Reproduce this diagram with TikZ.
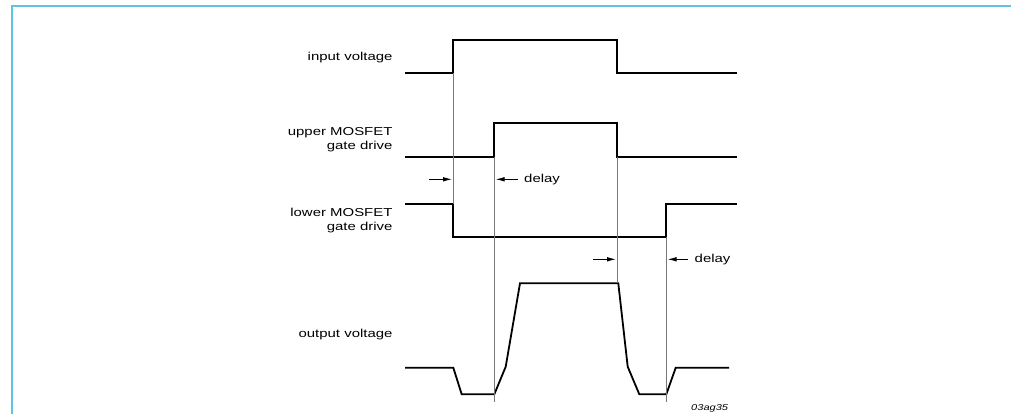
\documentclass[tikz,border=0pt]{standalone}
\usepackage{fontspec}
\setmainfont{Liberation Sans}[FakeStretch=1.3]
\usetikzlibrary{arrows.meta}
\definecolor{frameblue}{RGB}{95,195,225}
\definecolor{guidegray}{RGB}{120,120,120}
\tikzset{
  wave/.style={line width=1.8pt, line join=miter, line cap=butt},
  guide/.style={draw=guidegray, line width=0.9pt},
  lbl/.style={inner sep=0pt, font=\fontsize{11.5}{14}\selectfont, align=right},
  dlbl/.style={inner sep=0pt, font=\fontsize{11.5}{14}\selectfont, anchor=west},
  marker/.style={line width=0.9pt, -{Latex[length=9pt,width=4.6pt]}},
}
\begin{document}
\begin{tikzpicture}[x=1pt,y=-1pt]
\useasboundingbox (0,0) rectangle (1011,413);
\clip (0,0) rectangle (1011,413);
% frame
\draw[frameblue, line width=2pt] (12,414) -- (12,6) -- (1012,6);

% labels
\node[lbl, anchor=base east] (lin) at (392.7,60.7) {input voltage};
\node[lbl, anchor=east] (lup) at (392.7,140) {upper MOSFET\\gate drive};
\node[lbl, anchor=east] (llo) at (392.7,220.5) {lower MOSFET\\gate drive};
\node[lbl, anchor=base east] (lout) at (392.7,337.3) {output voltage};

% input voltage
\coordinate (in0) at (405,73.3);
\coordinate (in1) at (453.3,73.3);
\coordinate (in2) at (453.3,40);
\coordinate (in3) at (617.3,40);
\coordinate (in4) at (617.3,73.3);
\coordinate (in5) at (736.7,73.3);
\draw[wave] (in0) -- (in1) -- (in2) -- (in3) -- (in4) -- (in5);

% upper MOSFET gate drive
\coordinate (up0) at (405,156.7);
\coordinate (up1) at (494.3,156.7);
\coordinate (up2) at (494.3,122.7);
\coordinate (up3) at (617.3,122.7);
\coordinate (up4) at (617.3,156.7);
\coordinate (up5) at (736.7,156.7);
\draw[wave] (up0) -- (up1) -- (up2) -- (up3) -- (up4) -- (up5);

% lower MOSFET gate drive
\coordinate (lo0) at (405,204);
\coordinate (lo1) at (453.3,204);
\coordinate (lo2) at (453.3,236.7);
\coordinate (lo3) at (666.3,236.7);
\coordinate (lo4) at (666.3,204);
\coordinate (lo5) at (736.7,204);
\draw[wave] (lo0) -- (lo1) -- (lo2) -- (lo3) -- (lo4) -- (lo5);

% output voltage
\coordinate (o0) at (405,367.7);
\coordinate (o1) at (453.3,367.7);
\coordinate (o2) at (461.7,394.3);
\coordinate (o3) at (494.3,394.3);
\coordinate (o4) at (505.7,366.7);
\coordinate (o5) at (520,283.3);
\coordinate (o6) at (618.3,283.3);
\coordinate (o7) at (627.7,366.7);
\coordinate (o8) at (639.3,394.3);
\coordinate (o9) at (666.3,394.3);
\coordinate (o10) at (675.7,367.7);
\coordinate (o11) at (729,367.7);
\draw[wave] (o0) -- (o1) -- (o2) -- (o3) -- (o4) -- (o5) -- (o6) -- (o7) -- (o8) -- (o9) -- (o10) -- (o11);

% guide lines
\coordinate (g2end) at (494.3,401.7);
\coordinate (g4end) at (666.3,401.7);
\coordinate (g3end) at (617.3,283.3);
\draw[guide] (in1) -- (lo1);
\draw[guide] (up1) -- (g2end);
\draw[guide] (up4) -- (g3end);
\draw[guide] (lo3) -- (g4end);

% delay markers
\coordinate (a1s) at (429,179.3);
\coordinate (a1e) at (452,179.3);
\coordinate (a2s) at (518.3,179.3);
\coordinate (a2e) at (495.6,179.3);
\coordinate (a3s) at (593,259.3);
\coordinate (a3e) at (616,259.3);
\coordinate (a4s) at (688,259.3);
\coordinate (a4e) at (667.6,259.3);
\draw[marker] (a1s) -- (a1e);
\draw[marker] (a2s) -- (a2e);
\draw[marker] (a3s) -- (a3e);
\draw[marker] (a4s) -- (a4e);
\node[dlbl] (d1) at (524,179.3) {delay};
\node[dlbl] (d2) at (694.5,259.3) {delay};

% figure code
\node[inner sep=0pt, anchor=base east, font=\fontsize{8.5}{10}\selectfont\itshape] (code) at (728.3,410) {03ag35};
\end{tikzpicture}
\end{document}
